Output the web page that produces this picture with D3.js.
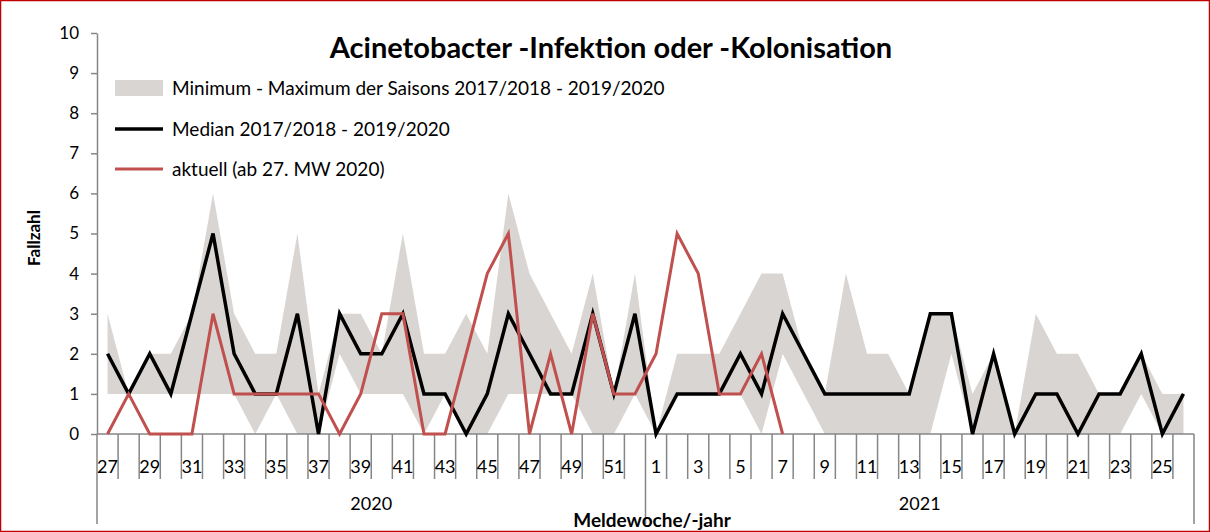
<!DOCTYPE html>
<html>
<head>
<meta charset="utf-8">
<script src="https://cdn.jsdelivr.net/npm/d3@7"></script>
<style>
  body { margin: 0; background: #fff; }
  svg text { font-family: Lato, "Open Sans", sans-serif; }
</style>
</head>
<body>
<div id="chart"></div>
<script>
// Meldewochen 27/2020 .. 26/2021
const weeks = [27,28,29,30,31,32,33,34,35,36,37,38,39,40,41,42,43,44,45,46,47,48,49,50,51,52,
               1,2,3,4,5,6,7,8,9,10,11,12,13,14,15,16,17,18,19,20,21,22,23,24,25,26];

const seasonMax = [3,1,2,2,3,6,3,2,2,5,1,3,3,2,5,2,2,3,2,6,4,3,2,4,1,4,
                   0,2,2,2,3,4,4,2,1,4,2,2,1,3,3,1,2,0,3,2,2,1,1,2,1,1];
const seasonMin = [1,1,1,1,1,1,1,0,1,0,0,2,1,1,1,0,1,0,0,1,1,1,1,0,0,1,
                   0,1,1,1,1,0,2,1,0,0,0,0,0,0,2,0,0,0,0,0,0,0,0,1,0,0];
const median = [2,1,2,1,3,5,2,1,1,3,0,3,2,2,3,1,1,0,1,3,2,1,1,3,1,3,
                0,1,1,1,2,1,3,2,1,1,1,1,1,3,3,0,2,0,1,1,0,1,1,2,0,1];
// aktuell (ab 27. MW 2020), bis MW 7/2021
const current = [0,1,0,0,0,3,1,1,1,1,1,0,1,3,3,0,0,2,4,5,0,2,0,3,1,1,
                 2,5,4,1,1,2,0];

const years = ["2020", "2021"];
const yTicks = [0,1,2,3,4,5,6,7,8,9,10];

const width = 1210, height = 532;
const svg = d3.select("#chart").append("svg")
    .attr("width", width)
    .attr("height", height);

// rahmen
svg.append("rect")
    .attr("x", 0.5).attr("y", 0.5)
    .attr("width", width - 1).attr("height", height - 1)
    .attr("fill", "none")
    .attr("stroke", "#c00000")
    .attr("stroke-width", 1.5);

const x = d3.scaleBand()
    .domain(weeks)
    .range([97, 1194])
    .padding(0);
const y = d3.scaleLinear()
    .domain([0, 10])
    .range([434, 33]);

const cx = w => x(w) + x.bandwidth() / 2;
const axisColor = "#868686";

// band min-max
const bandData = weeks.map((w, i) => ({w: w, lo: seasonMin[i], hi: seasonMax[i]}));
svg.append("path")
    .datum(bandData)
    .attr("fill", "#d9d5d2")
    .attr("d", d3.area()
        .x(d => cx(d.w))
        .y0(d => y(d.lo))
        .y1(d => y(d.hi)));

// y achse
const yAxis = svg.append("g")
    .attr("transform", "translate(97,0)")
    .call(d3.axisLeft(y).tickValues(yTicks).tickSize(6).tickSizeOuter(0).tickPadding(12));
yAxis.select(".domain").attr("stroke", axisColor).attr("stroke-width", 1.5);
yAxis.selectAll(".tick line").attr("stroke", axisColor).attr("stroke-width", 1.5);
yAxis.selectAll(".tick text")
    .attr("font-size", 17)
    .attr("fill", "#000")
    .attr("font-family", "Lato");

svg.append("text")
    .attr("transform", "translate(40,238) rotate(-90)")
    .attr("text-anchor", "middle")
    .attr("font-size", 17)
    .attr("font-weight", "bold")
    .text("Fallzahl");

// x achse
svg.append("line")
    .attr("x1", 97).attr("x2", 1194)
    .attr("y1", y(0)).attr("y2", y(0))
    .attr("stroke", axisColor).attr("stroke-width", 1.5);

const bounds = weeks.map(w => x(w)).concat([x.range()[1]]);
svg.selectAll(".xtick")
    .data(bounds)
    .enter().append("line")
    .attr("class", "xtick")
    .attr("x1", d => d).attr("x2", d => d)
    .attr("y1", y(0))
    .attr("y2", (d, i) => (i === 0 || i === 26 || i === weeks.length) ? 524 : 479)
    .attr("stroke", axisColor)
    .attr("stroke-width", 1.5);

svg.selectAll(".xlabel")
    .data(weeks.filter((w, i) => i % 2 === 0))
    .enter().append("text")
    .attr("class", "xlabel")
    .attr("x", d => cx(d))
    .attr("y", 473)
    .attr("text-anchor", "middle")
    .attr("font-size", 18)
    .text(d => d);

svg.selectAll(".year")
    .data(years)
    .enter().append("text")
    .attr("class", "year")
    .attr("x", (d, i) => i === 0 ? (x(27) + x(52) + x.bandwidth()) / 2 : (x(1) + x(26) + x.bandwidth()) / 2)
    .attr("y", 510)
    .attr("text-anchor", "middle")
    .attr("font-size", 18)
    .text(d => d);

svg.append("text")
    .attr("x", 652)
    .attr("y", 527)
    .attr("text-anchor", "middle")
    .attr("font-size", 19)
    .attr("font-weight", "bold")
    .text("Meldewoche/-jahr");

// linien
const line = d3.line()
    .x(d => cx(d.w))
    .y(d => y(d.v));

svg.append("path")
    .datum(weeks.map((w, i) => ({w: w, v: median[i]})))
    .attr("fill", "none")
    .attr("stroke", "#000")
    .attr("stroke-width", 3.5)
    .attr("stroke-linejoin", "miter")
    .attr("d", line);

svg.append("path")
    .datum(current.map((v, i) => ({w: weeks[i], v: v})))
    .attr("fill", "none")
    .attr("stroke", "#c0504d")
    .attr("stroke-width", 3)
    .attr("d", line);

// titel
svg.append("text")
    .attr("x", 611)
    .attr("y", 58)
    .attr("text-anchor", "middle")
    .attr("font-size", 29)
    .attr("font-weight", "bold")
    .text("Acinetobacter -Infektion oder -Kolonisation");

// legende
const legend = [
    {label: "Minimum - Maximum der Saisons 2017/2018 - 2019/2020", type: "band", y: 88},
    {label: "Median 2017/2018 - 2019/2020", type: "line", color: "#000", w: 3.5, y: 129},
    {label: "aktuell (ab 27. MW 2020)", type: "line", color: "#c0504d", w: 3, y: 169}
];
const lg = svg.selectAll(".legend")
    .data(legend)
    .enter().append("g")
    .attr("class", "legend")
    .attr("transform", d => `translate(0,${d.y})`);

lg.filter(d => d.type === "band").append("rect")
    .attr("x", 115).attr("y", -8)
    .attr("width", 48).attr("height", 16)
    .attr("fill", "#d9d5d2");
lg.filter(d => d.type === "line").append("line")
    .attr("x1", 115).attr("x2", 163)
    .attr("stroke", d => d.color)
    .attr("stroke-width", d => d.w);
lg.append("text")
    .attr("x", 172)
    .attr("dy", "0.35em")
    .attr("font-size", 19)
    .text(d => d.label);
</script>
</body>
</html>
